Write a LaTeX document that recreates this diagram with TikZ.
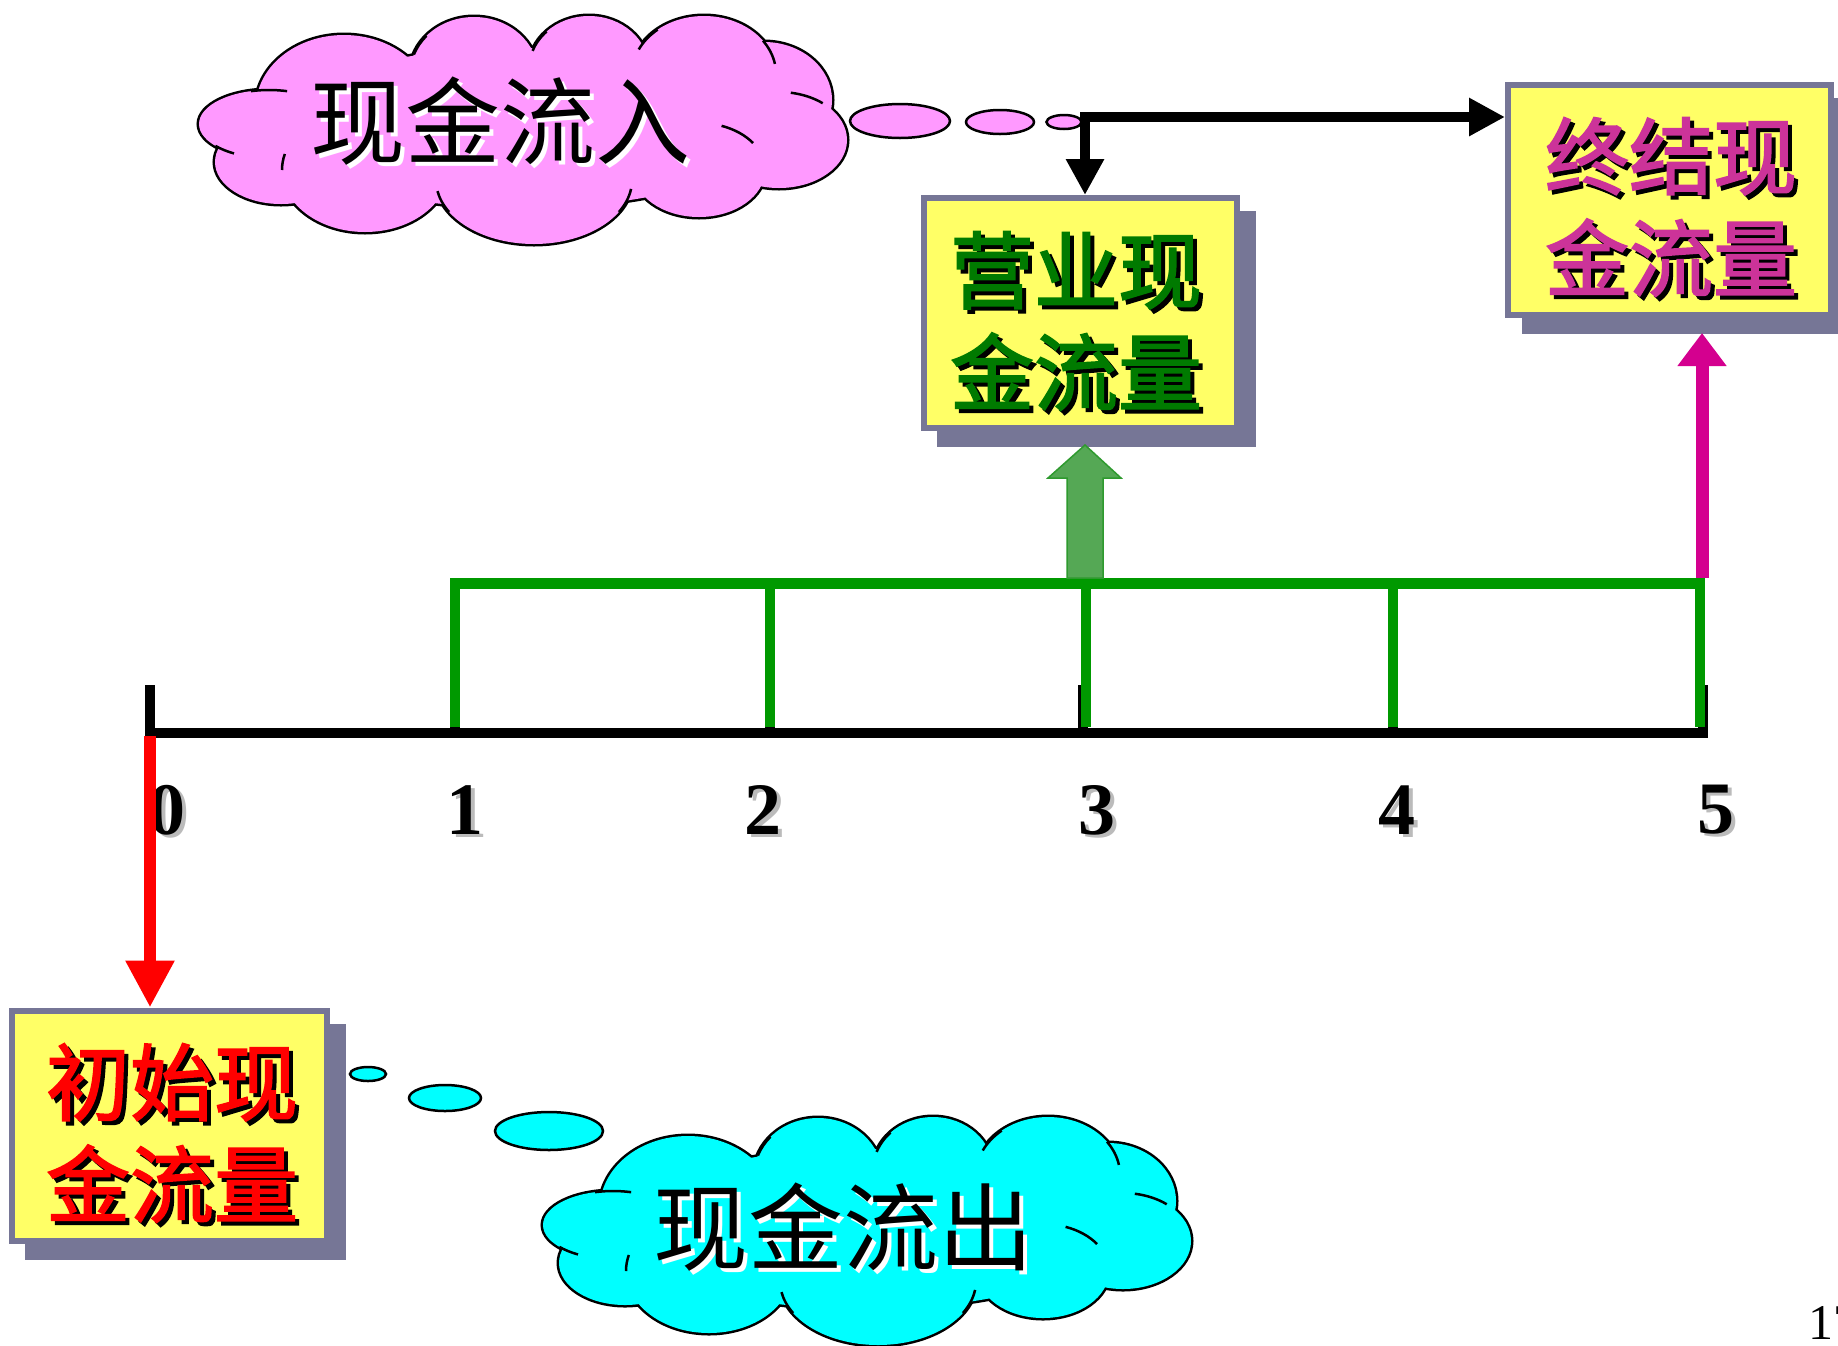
\documentclass[tikz,border=0pt]{standalone}
\usepackage{fontspec}
\setmainfont{Liberation Serif}
\newfontfamily\cjk{Noto Sans CJK SC}
\newfontfamily\cjkm[FakeBold=2]{Noto Sans CJK SC}
\usetikzlibrary{arrows.meta,calc,shapes.geometric}
\definecolor{pinkc}{HTML}{FF99FF}
\definecolor{cyanc}{HTML}{00FFFF}
\definecolor{boxy}{HTML}{FFFF66}
\definecolor{boxb}{HTML}{767696}
\definecolor{gline}{HTML}{009900}
\definecolor{garrow}{HTML}{55A855}
\definecolor{garrowd}{HTML}{2E9A2E}
\definecolor{magar}{HTML}{D4008F}
\definecolor{magtxt}{HTML}{CC3399}
\definecolor{gtxt}{HTML}{007A00}
\definecolor{dshadow}{HTML}{BBBBBB}
\tikzset{
  cashbox/.style={draw=boxb, line width=6pt, fill=boxy, inner sep=0pt, minimum height=230pt},
  boxshadow/.style={fill=boxb, inner sep=0pt, minimum height=236pt},
  boxtxt/.style={font=\cjkm\fontsize{84}{102}\selectfont, align=center, inner sep=0pt},
  cloudtxt/.style={font=\cjk\fontsize{95}{95}\selectfont, inner sep=0pt},
  digit/.style={font=\bfseries\fontsize{74}{74}\selectfont, inner sep=0pt},
  axisline/.style={line width=10pt, black},
  gridline/.style={line width=10pt, gline},
  bubble/.style={draw=black, line width=2.5pt, ellipse, inner sep=0pt},
  blkarrow/.style={line width=10pt, black, -{Triangle[length=36pt, width=36pt]}},
}
% cloud made from a union of ellipses
\newcommand\cloudpuffs[1]{%
  \foreach \cx/\cy/\rx/\ry in {145/95/88/72, 275/62/64/57, 390/57/60/53, 505/62/72/58,
     565/88/68/58, 580/128/68/48, 500/158/66/47, 335/168/98/64, 166/158/83/62,
     82/150/66/42, 70/112/70/34, 322/116/250/80}{#1 (\cx,\cy) ellipse [x radius=\rx pt, y radius=\ry pt];}}
% inner crease arcs of the cloud
\newcommand\cloudcreases{%
  \foreach \cx/\cy/\rx/\ry/\a/\b in {70/112/70/34/255/285, 275/62/64/57/200/222,
     390/57/60/53/200/225, 505/62/72/58/205/230, 505/62/72/58/325/350,
     580/128/68/48/280/310, 500/158/66/47/290/325, 335/168/98/64/8/30,
     335/168/98/64/150/170, 166/158/83/62/180/195, 70/112/70/34/120/140}{%
    \draw[line width=2.5pt, black] (\cx,\cy) ++({\rx*cos(\a)},{\ry*sin(\a)})
      arc[start angle=-\a, end angle=-\b, x radius=\rx pt, y radius=\ry pt];}}
\begin{document}
\begin{tikzpicture}[x=1pt, y=-1pt]
\useasboundingbox (0,0) rectangle (1838,1345);
\fill[white] (0,0) rectangle (1838,1345);

% ---- pink cloud (cash inflow)
\begin{scope}[shift={(199,12)}]
  \cloudpuffs{\draw[line width=5pt, black]}
  \cloudpuffs{\fill[pinkc]}
  \cloudcreases
\end{scope}
\coordinate (pinkc0) at (500,121);
\node[cloudtxt, white] (inshadow) at ($(pinkc0)+(4,4)$) {现金流入};
\node[cloudtxt, black] (intext) at (pinkc0) {现金流入};
\node[bubble, fill=pinkc, minimum width=100pt, minimum height=34pt] (pb1) at (900,121) {};
\node[bubble, fill=pinkc, minimum width=68pt, minimum height=24pt] (pb2) at (1000,122) {};
\node[bubble, fill=pinkc, minimum width=35pt, minimum height=14pt] (pb3) at (1064,122) {};

% ---- cyan cloud (cash outflow)
\begin{scope}[shift={(543,1113)}]
  \cloudpuffs{\draw[line width=5pt, black]}
  \cloudpuffs{\fill[cyanc]}
  \cloudcreases
\end{scope}
\coordinate (cyanc0) at (843,1227);
\node[cloudtxt, white] (outshadow) at ($(cyanc0)+(4,4)$) {现金流出};
\node[cloudtxt, black] (outtext) at (cyanc0) {现金流出};
\node[bubble, fill=cyanc, minimum width=36pt, minimum height=14pt] (cb1) at (368,1074) {};
\node[bubble, fill=cyanc, minimum width=72pt, minimum height=26pt] (cb2) at (445,1098) {};
\node[bubble, fill=cyanc, minimum width=108pt, minimum height=38pt] (cb3) at (549,1131) {};

% ---- boxes
\node[boxshadow, minimum width=321pt] (s1) at (185.5,1141.5) {};
\node[cashbox, minimum width=315pt] (box1) at (169.5,1125.5) {};
\node[boxtxt, black] (t1s) at (176,1137) {初始现\\金流量};
\node[boxtxt, red] (t1) at (172,1133) {初始现\\金流量};

\node[boxshadow, minimum width=319pt] (s2) at (1096.5,329) {};
\node[cashbox, minimum width=313pt] (box2) at (1080.5,313) {};
\node[boxtxt, black] (t2s) at (1080,325) {营业现\\金流量};
\node[boxtxt, gtxt] (t2) at (1076,321) {营业现\\金流量};

\node[boxshadow, minimum width=329pt] (s3) at (1686.5,216) {};
\node[cashbox, minimum width=323pt] (box3) at (1669.5,200) {};
\node[boxtxt, black] (t3s) at (1675,211) {终结现\\金流量};
\node[boxtxt, magtxt] (t3) at (1671,207) {终结现\\金流量};

% ---- time axis
\foreach \i/\x in {0/150,1/455,2/770,3/1083,4/1393,5/1703}{
  \coordinate (a\i) at (\x,733);
  \draw[axisline] (\x,685) -- (\x,738);
}
\draw[axisline] ($(a0)+(-5,0)$) -- ($(a5)+(5,0)$);

% ---- labels
\foreach \i/\x in {0/167,1/465,2/763,3/1097,4/1397,5/1716}{
  \node[digit, dshadow] (d\i s) at (\x+4,813) {\i};
  \node[digit, black] (d\i) at (\x,810) {\i};
}

% ---- operating cash flow bracket
\coordinate (g1) at (455,583);
\coordinate (g5) at (1700,583);
\foreach \x in {455,770,1086,1393,1700}{
  \draw[line width=10pt, gline] (\x,583) -- (\x,727);
}
\draw[gridline, line width=11pt] ($(g1)+(-5,0)$) -- ($(g5)+(5,0)$);

% ---- block arrow to operating box
\filldraw[fill=garrow, draw=garrowd, line width=1.5pt]
  (1067,578) -- (1067,478) -- (1048,478) -- (1085,445) -- (1121,478) -- (1103,478) -- (1103,578) -- cycle;

% ---- terminal arrow
\draw[line width=13pt, magar, -{Triangle[length=33pt, width=47pt]}] (1702,578) -- (1702,333);

% ---- initial arrow
\draw[line width=12pt, red, -{Triangle[length=47pt, width=46pt]}] ($(a0)+(0,3)$) -- (a0 |- box1.north);

% ---- black arrows from inflow bubble
\coordinate (jn) at (1085,117);
\draw[blkarrow] ($(jn)+(-5,0)$) -- (jn -| box3.west);
\draw[blkarrow] ($(jn)+(0,-5)$) -- (jn |- box2.north);

% ---- page number
\node[anchor=base west, font=\fontsize{50}{50}\selectfont, inner sep=0pt] (pg) at (1808,1339) {17};
\end{tikzpicture}
\end{document}
